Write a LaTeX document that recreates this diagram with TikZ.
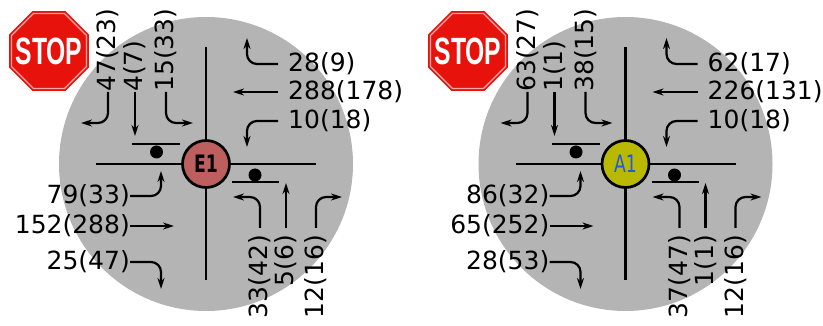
\documentclass[tikz,border=0pt]{standalone}
\usepackage{fontspec}
\setmainfont{DejaVu Sans}
\newfontfamily\stopfont{Liberation Sans}
\usetikzlibrary{arrows.meta,shapes.geometric}
\definecolor{zonegray}{HTML}{B4B4B4}
\definecolor{stopred}{HTML}{E8120C}
\definecolor{stoprim}{HTML}{F2A8A4}
\definecolor{nodered}{HTML}{BE5F5F}
\definecolor{nodeolive}{HTML}{B9B900}
\definecolor{nodeblue}{HTML}{1E5AE6}
\tikzset{
	road/.style={line width=2.7pt},
	flow/.style={line width=2.2pt, rounded corners=10pt, -{Stealth[length=11pt,width=7pt]}},
	lbl/.style={font=\fontsize{25}{25}\selectfont, inner sep=0pt},
	lblnorth/.style={lbl, rotate=90, anchor=west},
	lblsouth/.style={lbl, rotate=90, anchor=east, inner xsep=7pt},
	lbleast/.style={lbl, anchor=west, inner xsep=10pt},
	lblwest/.style={lbl, anchor=east},
	stopsign/.style={regular polygon, regular polygon sides=8, minimum size=81pt, inner sep=0pt,
		fill=stopred, draw=stopred, double=stoprim, double distance=1.2pt, line width=1.8pt},
	stoptext/.style={text=white, font=\stopfont\bfseries\fontsize{38}{38}\selectfont},
	junction/.style={circle, minimum size=47pt, inner sep=0pt, draw=black, line width=2.7pt,
		font=\fontsize{24}{24}\selectfont}
}
\newcommand{\crossing}[2]{
	\fill[zonegray] (0,0) circle[radius=147pt];
	\coordinate (rw) at (-110,0);
	\coordinate (re) at (110,0);
	\coordinate (rn) at (0,-117);
	\coordinate (rs) at (0,116);
	\draw[road] (rw)--(re);
	\draw[road] (rn)--(rs);
	\draw[road] (-74,-20)--(-26,-20);
	\draw[road] (26,18)--(73,18);
	\fill (-49.5,-12) circle[radius=6.5pt];
	\fill (49,11) circle[radius=6.5pt];
	\node[junction, fill=#1] (ctr) at (0,0) {\scalebox{.72}[1]{#2}};
}
\newcommand{\labelsnorth}[3]{
	\node[lblnorth] (nl) at (-98,-72) {#1};
	\node[lblnorth] (nt) at (-71,-72) {#2};
	\node[lblnorth] (nr) at (-40,-72) {#3};
}
\newcommand{\labelseast}[3]{
	\node[lbleast] (el) at (72,-100) {#1};
	\node[lbleast] (et) at (72,-72) {#2};
	\node[lbleast] (er) at (72,-43) {#3};
}
\newcommand{\labelssouth}[3]{
	\node[lblsouth] (sl) at (54,64) {#1};
	\node[lblsouth] (st) at (80,64) {#2};
	\node[lblsouth] (sr) at (110,64) {#3};
}
\newcommand{\labelswest}[3]{
	\node[lblwest] (wl) at (-76,32) {#1};
	\node[lblwest] (wt) at (-76,62) {#2};
	\node[lblwest] (wr) at (-76,98) {#3};
}
\newcommand{\flows}{
	\draw[flow] (nl.west) |- ++(-27,31);
	\draw[flow] (nt.west) -- ++(0,44);
	\draw[flow] (nr.west) |- ++(27,31);
	\draw[flow] (el.west) -| ++(-31,-26);
	\draw[flow] (et.west) -- ++(-45,0);
	\draw[flow] (er.west) -| ++(-31,26);
	\draw[flow] (sl.east) |- ++(-27,-31);
	\draw[flow] (st.east) -- ++(0,-45);
	\draw[flow] (sr.east) |- ++(26,-31);
	\draw[flow] (wl.east) -| ++(31,-25);
	\draw[flow] (wt.east) -- ++(44,0);
	\draw[flow] (wr.east) -| ++(31,27);
}
\begin{document}
\begin{tikzpicture}[x=1pt,y=-1pt]
	\useasboundingbox (0,0) rectangle (823,326);
	\begin{scope}[shift={(206,164)}, name prefix=e-]
		\crossing{nodered}{\bfseries E1}
		\labelsnorth{47(23)}{4(7)}{15(33)}
		\labelseast{28(9)}{288(178)}{10(18)}
		\labelssouth{33(42)}{5(6)}{12(16)}
		\labelswest{79(33)}{152(288)}{25(47)}
		\flows
	\end{scope}
	\begin{scope}[shift={(625.5,164)}, name prefix=a-]
		\crossing{nodeolive}{\color{nodeblue}A1}
		\labelsnorth{63(27)}{1(1)}{38(15)}
		\labelseast{62(17)}{226(131)}{10(18)}
		\labelssouth{37(47)}{1(1)}{12(16)}
		\labelswest{86(32)}{65(252)}{28(53)}
		\flows
	\end{scope}
	\node[stopsign] (stope) at (49,51) {};
	\node[stoptext] (stoptxte) at (stope) {\scalebox{.65}[1]{STOP}};
	\node[stopsign] (stopa) at (468,51) {};
	\node[stoptext] (stoptxta) at (stopa) {\scalebox{.65}[1]{STOP}};
\end{tikzpicture}
\end{document}
